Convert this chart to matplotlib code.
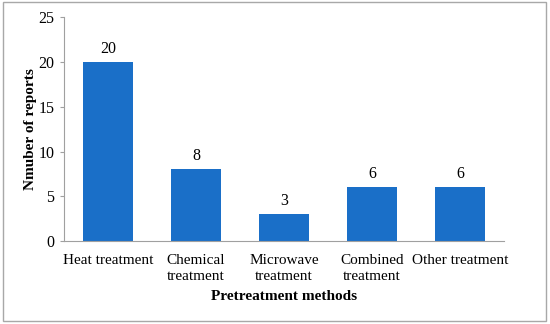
import matplotlib
matplotlib.use('Agg')
import matplotlib.pyplot as plt
from matplotlib.patches import Rectangle

categories = ['Heat treatment', 'Chemical\ntreatment', 'Microwave\ntreatment',
              'Combined\ntreatment', 'Other treatment']
reports = [20, 8, 3, 6, 6]

plt.rcParams['font.family'] = ['Liberation Serif', 'DejaVu Serif']

fig = plt.figure(figsize=(5.5, 3.24), dpi=100)
ax = fig.add_axes([0.1164, 0.256, 0.80, 0.691])

x = list(range(len(categories)))
bars = ax.bar(x, reports, width=0.56, color='#1a6fc8', zorder=2)
for b, v in zip(bars, reports):
    ax.text(b.get_x() + b.get_width() / 2, v + 0.6, str(v),
            ha='center', va='bottom', fontsize=11.5)

ax.set_xlim(-0.5, len(categories) - 0.5)
ax.set_ylim(0, 25)
ax.set_yticks([0, 5, 10, 15, 20, 25])
ax.set_xticks(x)
ax.set_xticklabels(categories, fontsize=11, linespacing=1.3)
ax.tick_params(axis='y', labelsize=11.5, length=3, color='#a0a0a0', pad=4)
ax.tick_params(axis='x', length=0, pad=9)

for s in ['top', 'right']:
    ax.spines[s].set_visible(False)
for s in ['left', 'bottom']:
    ax.spines[s].set_color('#a0a0a0')
    ax.spines[s].set_linewidth(0.8)

ax.set_ylabel('Nmuber of reports', fontsize=11, fontweight='bold', labelpad=1)
ax.set_xlabel('Pretreatment methods', fontsize=11, fontweight='bold', labelpad=5)

fig.patches.append(Rectangle((0.005, 0.008), 0.988, 0.985, transform=fig.transFigure,
                             fill=False, edgecolor='#a8a8a8', linewidth=1.0))

fig.savefig('out.png', dpi=100)
